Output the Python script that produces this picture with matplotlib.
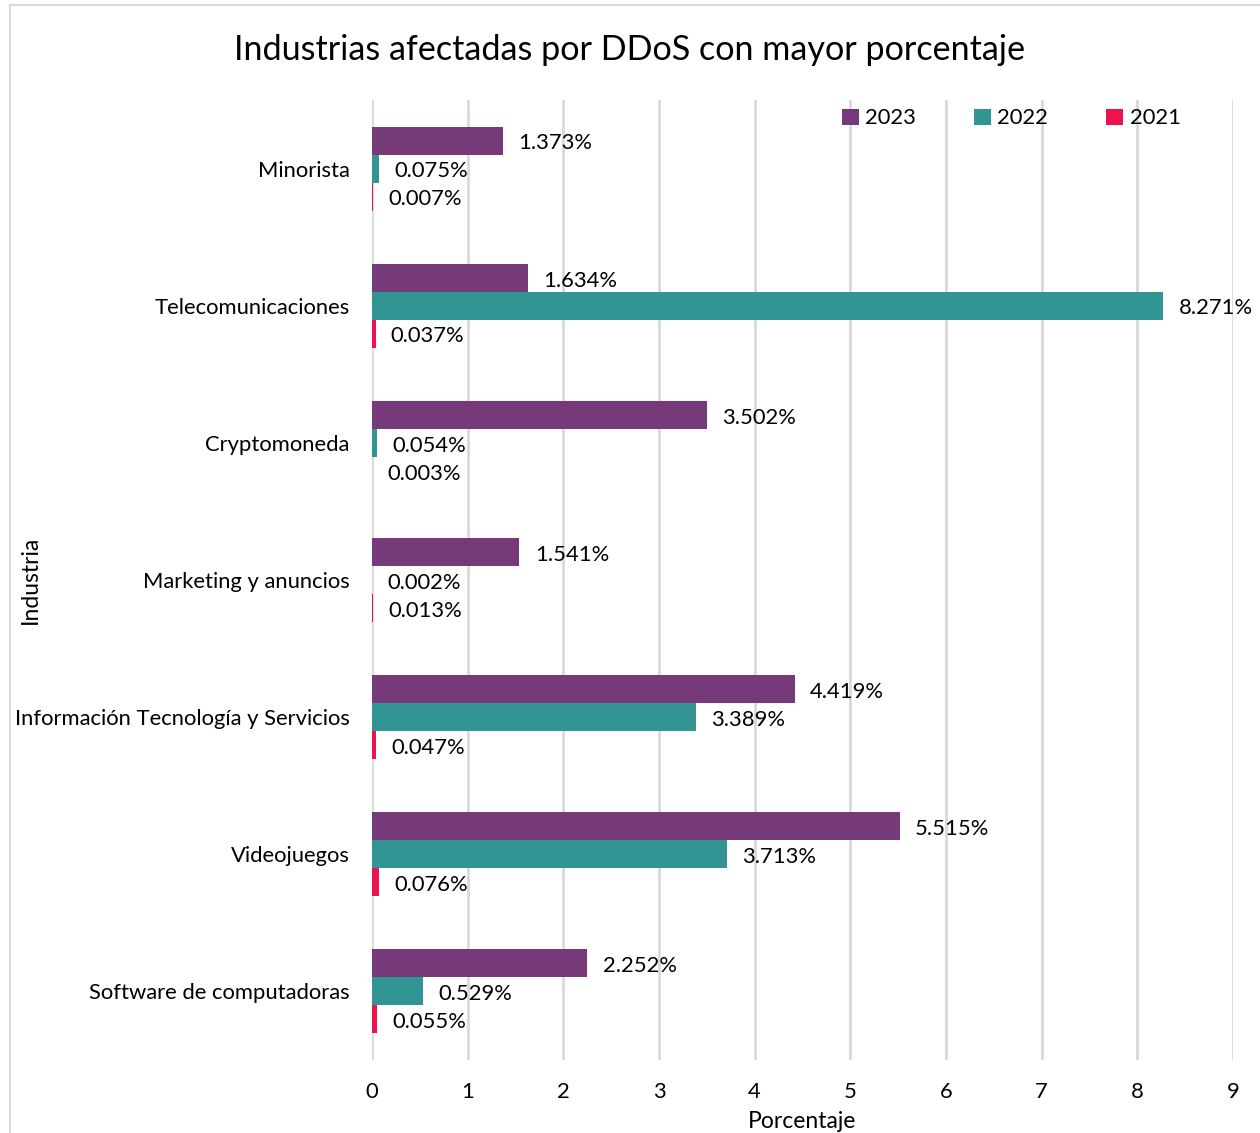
import numpy as np
import matplotlib.pyplot as plt
from matplotlib.patches import Rectangle

# --- Data ---
industrias = ["Minorista", "Telecomunicaciones", "Cryptomoneda", "Marketing y anuncios",
              "Información Tecnología y Servicios", "Videojuegos", "Software de computadoras"]
v2023 = [1.373, 1.634, 3.502, 1.541, 4.419, 5.515, 2.252]
v2022 = [0.075, 8.271, 0.054, 0.002, 3.389, 3.713, 0.529]
v2021 = [0.007, 0.037, 0.003, 0.013, 0.047, 0.076, 0.055]
xticks = list(range(0, 10))

series = [("2023", v2023, "#763A7B"), ("2022", v2022, "#339494"), ("2021", v2021, "#F0114F")]

plt.rcParams['font.family'] = ['Lato', 'DejaVu Sans']

fig = plt.figure(figsize=(12.6, 11.33), dpi=100)
# light frame around the chart area
fig.patches.append(Rectangle((10 / 1260, -0.01), 1.1, 1 - 5 / 1133 + 0.01, transform=fig.transFigure,
                             fill=False, edgecolor="#D9D9D9", linewidth=1.5))

ax = fig.add_axes([372 / 1260, 1 - 1060 / 1133, (1233 - 372) / 1260, 960 / 1133])

y = np.arange(len(industrias))
h = 0.204
for i, (name, vals, col) in enumerate(series):
    pos = y + (i - 1) * h
    ax.barh(pos, vals, height=h, color=col, label=name, zorder=3)
    for p, v in zip(pos, vals):
        ax.annotate(f"{v:.3f}%", xy=(v, p), xytext=(11, -2), textcoords="offset points",
                    va="center", ha="left", fontsize=15.8)

ax.set_ylim(len(industrias) - 0.5, -0.5)
ax.set_xlim(0, 9)
ax.set_xticks(xticks)
ax.set_yticks(y)
ax.set_yticklabels(industrias)
ax.tick_params(axis="both", length=0, labelsize=15.8)
ax.tick_params(axis="y", pad=16)
ax.tick_params(axis="x", pad=16)
ax.grid(axis="x", color="#D9D9D9", linewidth=2, zorder=0)
ax.set_axisbelow(True)
for s in ax.spines.values():
    s.set_visible(False)

ax.set_xlabel("Porcentaje", fontsize=16.5, labelpad=6)
fig.text(30 / 1260, 1 - 580 / 1133, "Industria", rotation=90, fontsize=16.5, ha="center", va="center")
fig.suptitle("Industrias afectadas por DDoS con mayor porcentaje", fontsize=24.6, y=1 - 50 / 1133, va="center")

ax.legend(loc="upper right", bbox_to_anchor=(0.962, 1.012), ncol=3, frameon=False, fontsize=15.8,
          handlelength=0.75, handleheight=0.75, handletextpad=0.3, columnspacing=2.65)

fig.savefig("out.png", dpi=100)
